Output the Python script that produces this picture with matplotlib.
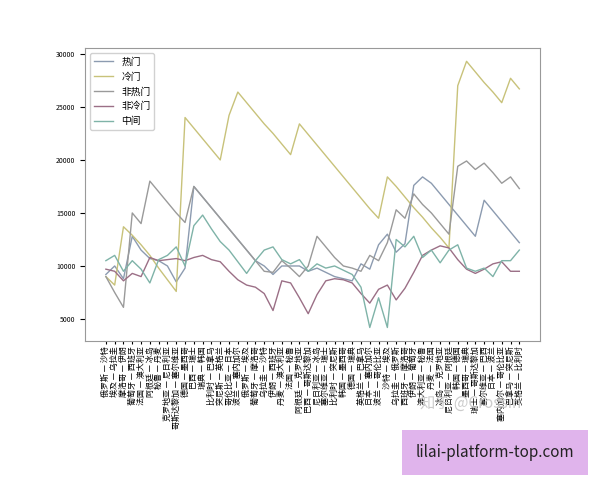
import matplotlib
matplotlib.use('Agg')
import matplotlib.pyplot as plt

plt.rcParams['font.family'] = ['Noto Sans CJK SC', 'DejaVu Sans']

matches = [
    '俄罗斯 — 沙特', '埃及 — 乌拉圭', '摩洛哥 — 伊朗', '葡萄牙 — 西班牙',
    '法国 — 澳大利亚', '阿根廷 — 冰岛', '秘鲁 — 丹麦', '克罗地亚 — 尼日利亚',
    '哥斯达黎加 — 塞尔维亚', '德国 — 墨西哥', '巴西 — 瑞士', '瑞典 — 韩国',
    '比利时 — 巴拿马', '突尼斯 — 英格兰', '哥伦比亚 — 日本', '波兰 — 塞内加尔',
    '俄罗斯 — 埃及', '葡萄牙 — 摩洛哥', '乌拉圭 — 沙特', '伊朗 — 西班牙',
    '丹麦 — 澳大利亚', '法国 — 秘鲁', '阿根廷 — 克罗地亚', '巴西 — 哥斯达黎加',
    '尼日利亚 — 冰岛', '塞尔维亚 — 瑞士', '比利时 — 突尼斯', '韩国 — 墨西哥',
    '德国 — 瑞典', '英格兰 — 巴拿马', '日本 — 塞内加尔', '波兰 — 哥伦比亚',
    '沙特 — 埃及', '乌拉圭 — 俄罗斯', '西班牙 — 摩洛哥', '伊朗 — 葡萄牙',
    '澳大利亚 — 秘鲁', '丹麦 — 法国', '冰岛 — 克罗地亚', '尼日利亚 — 阿根廷',
    '韩国 — 德国', '墨西哥 — 瑞典', '瑞士 — 哥斯达黎加', '塞尔维亚 — 巴西',
    '日本 — 波兰', '塞内加尔 — 哥伦比亚', '巴拿马 — 突尼斯', '英格兰 — 比利时',
]

hot = [9200, 10000, 8800, 12800, 11500, 10700, 10500, 10000, 8500, 9800,
       17500, 16500, 15500, 14500, 13500, 12500, 11500, 10500, 10000, 9200,
       10000, 10000, 10000, 9500, 9800, 9400, 9000, 8800, 8600, 10200,
       9700, 12000, 13000, 11300, 12100, 17600, 18400, 17800, 16800, 15800,
       14800, 13800, 12800, 16200, 15200, 14200, 13200, 12200]
cold = [9000, 8200, 13700, 12900, 12000, 11000, 9800, 8700, 7600, 24000,
        23000, 22000, 21000, 20000, 24200, 26400, 25400, 24400, 23400, 22500,
        21500, 20500, 23400, 22400, 21400, 20400, 19400, 18400, 17400, 16400,
        15400, 14500, 18400, 17500, 16500, 15500, 14600, 13600, 12700, 11700,
        27000, 29300, 28300, 27300, 26400, 25400, 27700, 26700]
not_hot = [9000, 7500, 6100, 15000, 14000, 18000, 17000, 16000, 15000, 14100,
           17500, 16500, 15500, 14500, 13500, 12500, 11500, 10500, 9500, 9400,
           10500, 9800, 9000, 10000, 12800, 11800, 10800, 10000, 9800, 9500,
           11000, 10500, 12200, 15300, 14500, 16800, 15800, 15000, 14000, 13000,
           19400, 19900, 19100, 19700, 18800, 17800, 18400, 17300]
not_cold = [9700, 9500, 8600, 9300, 9000, 10800, 10500, 10600, 10700, 10500,
            10800, 11000, 10600, 10400, 9500, 8700, 8200, 8000, 7400, 5800,
            8600, 8400, 7000, 5500, 7300, 8600, 8800, 8700, 8400, 7400,
            6500, 7800, 8200, 6800, 7900, 9400, 11000, 11500, 11900, 11700,
            10600, 9700, 9300, 9700, 10200, 10400, 9500, 9500]
middle = [10500, 11000, 9500, 10500, 9700, 8400, 10600, 11000, 11800, 10000,
          13800, 14800, 13500, 12300, 11500, 10400, 9300, 10500, 11500, 11800,
          10600, 10200, 10600, 9500, 10200, 9800, 10000, 9600, 9200, 8000,
          4200, 7000, 4200, 12500, 11800, 12800, 10800, 11500, 10300, 11500,
          12000, 9800, 9500, 9800, 9000, 10500, 10500, 11500]

series = [('热门', hot, '#8c9bb0'), ('冷门', cold, '#c8c27a'),
          ('非热门', not_hot, '#9a9a9a'), ('非冷门', not_cold, '#9b6f86'),
          ('中间', middle, '#7fb3a8')]

fig = plt.figure(figsize=(6, 4.8), dpi=100)
ax = fig.add_axes([0.142, 0.29, 0.758, 0.61])
x = range(len(matches))
for name, vals, color in series:
    ax.plot(x, vals, color=color, linewidth=1, label=name)

ax.set_xticks(list(x))
ax.set_xticklabels(matches, rotation=90, fontsize=5.8)
ax.set_yticks([5000, 10000, 15000, 20000, 25000, 30000])
ax.tick_params(axis='y', labelsize=5)
ax.tick_params(axis='x', length=2, pad=2)
for s in ax.spines.values():
    s.set_color('#999999')
ax.legend(loc='upper left', fontsize=7, framealpha=0.9)

fig.text(0.70, 0.15, '知乎 @Crossin', fontsize=11, color='#cccccc')
fig.text(0.825, 0.057, 'lilai-platform-top.com', fontsize=11, ha='center', va='center',
         color='#222222',
         bbox=dict(boxstyle='square,pad=0.9', facecolor='#e0b4ec', edgecolor='none'))

fig.savefig('out.png', dpi=100)
